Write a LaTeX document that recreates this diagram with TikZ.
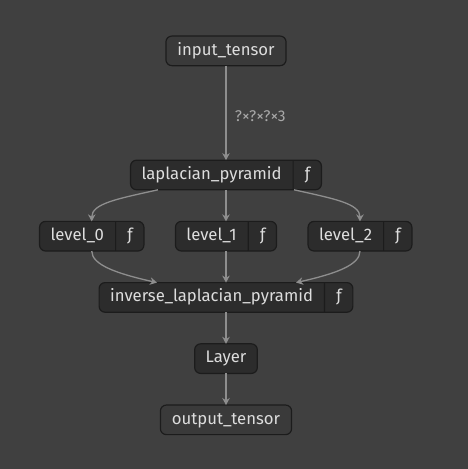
\documentclass[tikz,border=0pt]{standalone}
\usepackage{fontspec}
\setmainfont{Fira Sans}
\usetikzlibrary{positioning,shapes.multipart,arrows.meta}

\definecolor{canvas}{HTML}{404040}
\definecolor{opfill}{HTML}{2C2C2C}
\definecolor{iofill}{HTML}{3A3A3A}
\definecolor{rim}{HTML}{1C1C1C}
\definecolor{wirecol}{HTML}{8E8E8E}
\definecolor{ink}{HTML}{DDDDDD}
\definecolor{dimink}{HTML}{A8A8A8}

\tikzset{
  box/.style={draw=rim, line width=1.2pt, rounded corners=6pt, text=ink, outer sep=0pt,
    font=\fontsize{16.7}{19}\selectfont, inner xsep=11pt, inner ysep=6.55pt,
    text height=12.5pt, text depth=4pt},
  iobox/.style={box, fill=iofill, inner xsep=11.5pt},
  opbox/.style={box, fill=opfill},
  fnbox/.style={opbox, rectangle split, rectangle split horizontal,
    rectangle split parts=2, rectangle split draw splits},
  flow/.style={draw=wirecol, line width=1.3pt, -{Stealth[length=7pt,width=7.5pt]}},
  lbl/.style={text=dimink, font=\fontsize{15.5}{18}\selectfont}
}

\begin{document}
\begin{tikzpicture}[node distance=31.6pt and 31.5pt]
\fill[canvas] (0,0) rectangle (468pt,-469pt);
\useasboundingbox (0,0) rectangle (468pt,-469pt);
\node[iobox] (input) at (226pt,-50.85pt) {input\_tensor};
\node[fnbox] (lap) [below=94.5pt of input] {laplacian\_pyramid\nodepart{two}ƒ};
\node[fnbox] (lvl1) [below=of lap] {level\_1\nodepart{two}ƒ};
\node[fnbox] (lvl0) [left=of lvl1] {level\_0\nodepart{two}ƒ};
\node[fnbox] (lvl2) [right=of lvl1] {level\_2\nodepart{two}ƒ};
\node[fnbox] (inv) [below=of lvl1] {inverse\_laplacian\_pyramid\nodepart{two}ƒ};
\node[opbox] (layer) [below=of inv] {Layer};
\node[iobox] (output) [below=of layer] {output\_tensor};
\draw[flow] (input.south) -- node[lbl, right=5pt, pos=0.53] {?×?×?×3} (lap.north);
\draw[flow] ([xshift=-68pt]lap.south) .. controls +(-40pt,-9pt) and +(0,18pt) .. (lvl0.north);
\draw[flow] (lap.south) -- (lvl1.north);
\draw[flow] ([xshift=68pt]lap.south) .. controls +(40pt,-9pt) and +(0,18pt) .. (lvl2.north);
\draw[flow] (lvl0.south) .. controls +(0,-14pt) and +(-40pt,9pt) .. ([xshift=-69pt]inv.north);
\draw[flow] (lvl1.south) -- (inv.north);
\draw[flow] (lvl2.south) .. controls +(0,-14pt) and +(40pt,9pt) .. ([xshift=70pt]inv.north);
\draw[flow] (inv.south) -- (layer.north);
\draw[flow] (layer.south) -- (output.north);
\end{tikzpicture}
\end{document}
